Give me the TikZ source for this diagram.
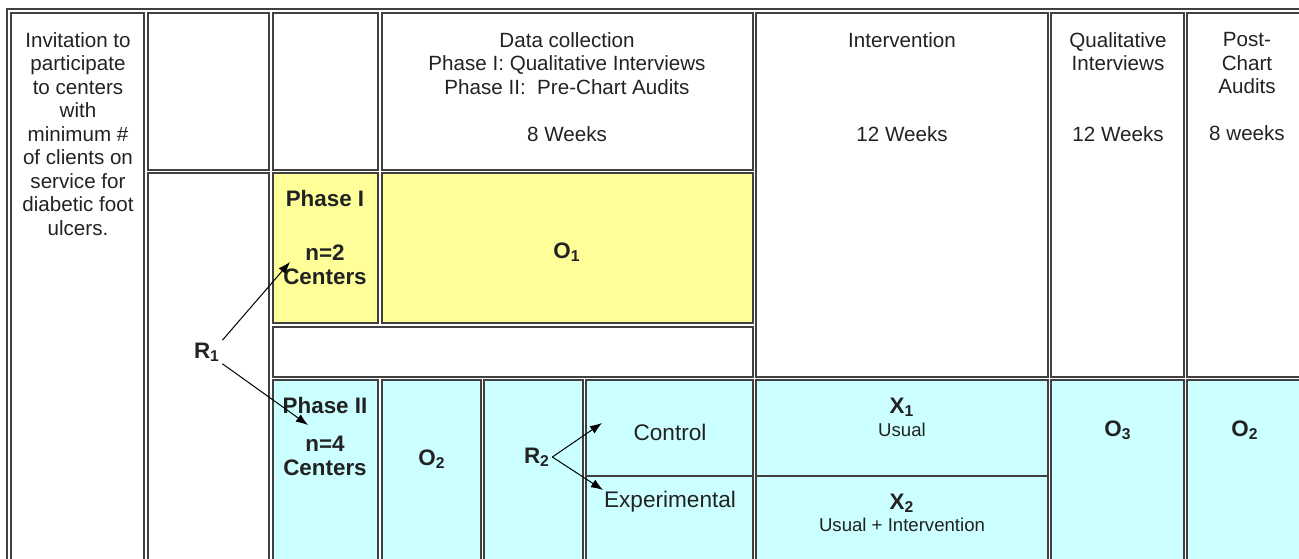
\documentclass[tikz,border=0pt]{standalone}
\usepackage{fontspec}
\setmainfont{Liberation Sans}
\usetikzlibrary{arrows.meta}
\definecolor{phaseyel}{HTML}{FFFF99}
\definecolor{phasecyan}{HTML}{CCFFFF}
\definecolor{ink}{HTML}{222222}

\begin{document}
\begin{tikzpicture}[x=0.5pt, y=-0.5pt, text=ink,
    font=\fontsize{10.3}{11.75}\selectfont,
    cell/.style={draw=black!75, line width=0.7pt},
    lbl/.style={align=center, inner sep=1pt},
    arm/.style={lbl, font=\fontsize{11.3}{13}\selectfont},
    big/.style={lbl, font=\fontsize{11.2}{12.25}\selectfont\bfseries},
    small/.style={lbl, font=\fontsize{9.3}{11}\selectfont},
    pick/.style={-{Latex[length=6pt, width=4.5pt]}, line width=0.5pt}]
    \useasboundingbox (0,0) rectangle (1299,558);
    \clip (0,0) rectangle (1299,558);
    \draw[cell] (7,9) rectangle (1320,580);
    % header row
    \draw[cell] (11,13) rectangle (144,570);
    \draw[cell] (148,13) rectangle (269,170);
    \draw[cell] (273,13) rectangle (378,170);
    \draw[cell] (382,13) rectangle (753,170);
    \draw[cell] (756,13) rectangle (1048,377);
    \draw[cell] (1051,13) rectangle (1184,377);
    \draw[cell] (1187,13) rectangle (1320,377);
    % phase I
    \draw[cell] (148,173) rectangle (269,570);
    \draw[cell, fill=phaseyel] (273,173) rectangle (378,323);
    \draw[cell, fill=phaseyel] (382,173) rectangle (753,323);
    \draw[cell] (273,327) rectangle (753,377);
    % phase II
    \draw[cell, fill=phasecyan] (273,380) rectangle (378,570);
    \draw[cell, fill=phasecyan] (382,380) rectangle (481,570);
    \draw[cell, fill=phasecyan] (484,380) rectangle (583,570);
    \draw[cell, fill=phasecyan] (586,380) rectangle (753,476);
    \draw[cell, fill=phasecyan] (586,476) rectangle (753,570);
    \draw[cell, fill=phasecyan] (756,380) rectangle (1048,476);
    \draw[cell, fill=phasecyan] (756,476) rectangle (1048,570);
    \draw[cell, fill=phasecyan] (1051,380) rectangle (1184,570);
    \draw[cell, fill=phasecyan] (1187,380) rectangle (1320,570);

    \node[lbl] (invite) at (78,134) {Invitation to\\participate\\to centers\\with\\minimum \#\\of clients on\\service for\\diabetic foot\\ulcers.};
    \node[lbl] (datahead) at (567,87) {Data collection\\Phase I: Qualitative Interviews\\Phase II:\ \ Pre-Chart Audits\\[11.75pt]8 Weeks};
    \node[lbl] (interhead) at (902,87) {Intervention\\[35.25pt]12 Weeks};
    \node[lbl] (qualhead) at (1118,87) {Qualitative\\Interviews\\[23.5pt]12 Weeks};
    \node[lbl] (posthead) at (1247,87) {Post-\\Chart\\Audits\\[11.75pt]8 weeks};

    \node[big] (ph1) at (325,198) {Phase I};
    \node[big] (ph1n) at (325,265) {n=2\\Centers};
    \node[big] (o1) at (567,252) {O\textsubscript{1}};
    \node[big] (r1) at (207,352) {R\textsubscript{1}};
    \node[big] (ph2) at (325,405) {Phase II};
    \node[big] (ph2n) at (325,456) {n=4\\Centers};
    \node[big] (o2a) at (432,459) {O\textsubscript{2}};
    \node[big] (r2) at (537,457) {R\textsubscript{2}};
    \node[arm] (ctl) at (670,432) {Control};
    \node[arm] (expt) at (670,502) {Experimental};
    \node[big] (x1) at (902,407) {X\textsubscript{1}};
    \node[small] (usual) at (902,430) {Usual};
    \node[big] (x2) at (902,503) {X\textsubscript{2}};
    \node[small] (usualint) at (902,525) {Usual + Intervention};
    \node[big] (o3) at (1118,430) {O\textsubscript{3}};
    \node[big] (o2b) at (1245,430) {O\textsubscript{2}};

    \coordinate (tip1) at (290,262);
    \coordinate (tip2) at (308,425);
    \coordinate (tipc) at (602,423);
    \coordinate (tipe) at (603,490);
    \draw[pick] (r1.north east) -- (tip1);
    \draw[pick] (r1.south east) -- (tip2);
    \draw[pick] (r2.east) -- (tipc);
    \draw[pick] (r2.east) -- (tipe);
\end{tikzpicture}
\end{document}
